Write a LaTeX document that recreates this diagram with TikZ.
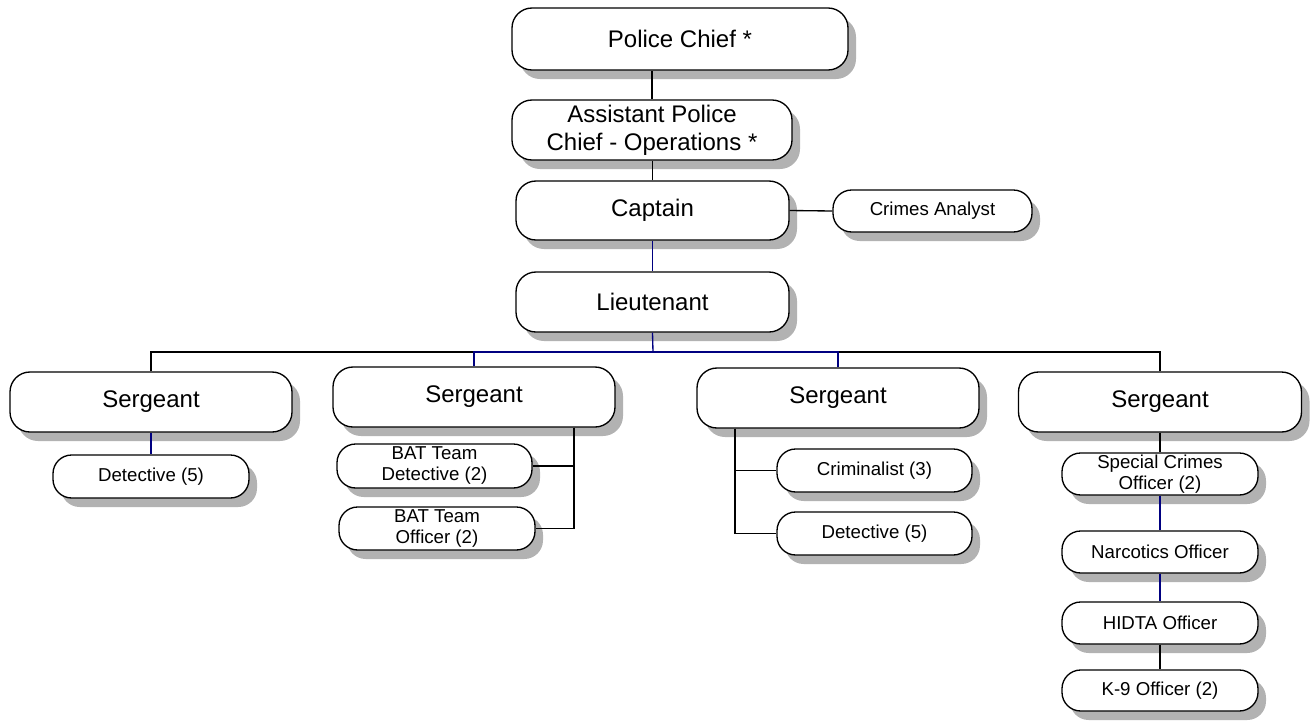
\documentclass[tikz,border=0pt]{standalone}
\usepackage{fontspec}
\setmainfont{Liberation Sans}
\usetikzlibrary{shadows}
\definecolor{linkblue}{RGB}{0,0,128}
\definecolor{shadowgray}{RGB}{178,178,178}
\tikzset{
  box/.style={draw, line width=1pt, fill=white, align=center, inner sep=0pt,
    drop shadow={shadow xshift=6pt, shadow yshift=-6.75pt, fill=shadowgray, opacity=1}},
  sz/.style 2 args={minimum width=#1*0.75pt, minimum height=#2*0.75pt},
  big/.style={box, rounded corners=15pt, font=\fontsize{18}{21}\selectfont},
  small/.style={box, rounded corners=14pt, font=\fontsize{14}{15.75}\selectfont},
  link/.style={line width=1pt, draw=black},
  bluelink/.style={line width=1pt, draw=linkblue},
}
\begin{document}
\begin{tikzpicture}[x=0.75pt, y=-0.75pt]
\useasboundingbox (0,0) rectangle (1311,722);

% command chain
\node[big, sz={336}{62}] (PC)  at (680,39)    {Police Chief *};
\node[big, sz={280}{60}] (APC) at (652,130)   {Assistant Police\\Chief - Operations *};
\node[big, sz={273}{59}] (Cap) at (652.5,210.5) {Captain};
\node[small, sz={199}{42}] (CA) at (932.5,211) {Crimes Analyst};
\node[big, sz={273}{60}] (Lt)  at (652.5,302) {Lieutenant};

% sergeants
\node[big, sz={282}{60}] (S1) at (151,402)  {Sergeant};
\node[big, sz={282}{60}] (S2) at (474,397)  {Sergeant};
\node[big, sz={282}{60}] (S3) at (838,398)  {Sergeant};
\node[big, sz={283}{60}] (S4) at (1160,402) {Sergeant};

% units
\node[small, sz={196}{43}] (D1)   at (151,476.5)  {Detective (5)};
\node[small, sz={195}{44}] (BD)   at (434.5,466)  {BAT Team\\Detective (2)};
\node[small, sz={196}{43}] (BO)   at (437,528.5)  {BAT Team\\Officer (2)};
\node[small, sz={195}{43}] (Crim) at (874.5,470.5) {Criminalist (3)};
\node[small, sz={195}{43}] (D3)   at (874.5,533.5) {Detective (5)};
\node[small, sz={196}{42}] (SC)   at (1160,474)   {Special Crimes\\Officer (2)};
\node[small, sz={196}{42}] (Narc) at (1160,552)   {Narcotics Officer};
\node[small, sz={196}{42}] (HID)  at (1160,623)   {HIDTA Officer};
\node[small, sz={196}{41}] (K9)   at (1160,690.5) {K-9 Officer (2)};

\coordinate (bus) at (653,352);

% connectors
\draw[link] (APC.north) -- (APC.north |- PC.south);
\draw[link] (Cap.north) -- (Cap.north |- APC.south);
\draw[link] (Cap.east) -- (CA.west);
\draw[bluelink] (Cap.south) -- (Lt.north);

\draw[link] (S1.north) |- (bus);
\draw[link] (S4.north) |- (bus);
\draw[bluelink] (S2.north) |- (bus);
\draw[bluelink] (S3.north) |- (bus);
\draw[bluelink] (Lt.south) -- (bus);

\draw[bluelink] (S1.south) -- (D1.north);

\draw[link] (S2.south) ++(100,0) |- (BD.east);
\draw[link] (S2.south) ++(100,0) |- (BO.east);

\draw[link] (S3.south) ++(-103,0) |- (Crim.west);
\draw[link] (S3.south) ++(-103,0) |- (D3.west);

\draw[link] (S4.south) -- (SC.north);
\draw[bluelink] (SC.south) -- (Narc.north);
\draw[bluelink] (Narc.south) -- (HID.north);
\draw[link] (HID.south) -- (K9.north);
\end{tikzpicture}
\end{document}
